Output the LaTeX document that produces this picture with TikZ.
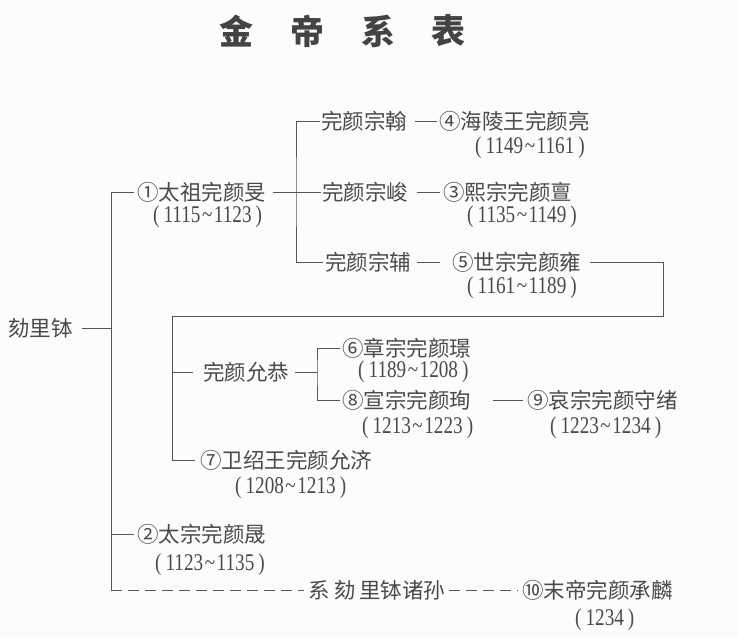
\documentclass[tikz,border=0pt]{standalone}
\usepackage{fontspec}
\newfontfamily\cjkfont{Noto Sans CJK SC}
\newfontfamily\datefont[FakeStretch=0.8]{Liberation Serif}
\definecolor{ink}{HTML}{4A4A4A}
\definecolor{lnc}{HTML}{555555}
\definecolor{bgc}{HTML}{FCFCFA}
\newcommand\mydates[2]{(\kern4pt #1\kern1.5pt\symbol{"7E}\kern1.5pt #2\kern4pt)}
\begin{document}
\begin{tikzpicture}[x=1pt,y=-1pt,
  cn/.style={inner sep=0pt, anchor=west, text=ink, font=\cjkfont\fontsize{21.5}{24}\selectfont},
  dt/.style={inner sep=0pt, anchor=west, text=ink, font=\datefont\fontsize{24}{26}\selectfont},
  ttl/.style={inner sep=0pt, text=ink!90!black, font=\cjkfont\bfseries\fontsize{34}{36}\selectfont},
  ln/.style={draw=lnc, line width=1pt},
  dl/.style={draw=lnc, line width=1pt, dash pattern=on 10.5pt off 6.5pt}]
\fill[bgc] (0,0) rectangle (738,638);
\useasboundingbox (0,0) rectangle (738,638);
% title
\node[ttl] (t1) at (236,31) {金};
\node[ttl] (t2) at (307,31) {帝};
\node[ttl] (t3) at (378,31) {系};
\node[ttl] (t4) at (448,31) {表};
% names
\node[cn] (root) at (8,328) {劾里钵};
\node[cn] (n1) at (137,192) {①太祖完颜旻};
\node[cn] (z1) at (321,121) {完颜宗翰};
\node[cn] (n4) at (439,121) {④海陵王完颜亮};
\node[cn] (z2) at (322,192) {完颜宗峻};
\node[cn] (n3) at (443,192) {③熙宗完颜亶};
\node[cn] (z3) at (325,262) {完颜宗辅};
\node[cn] (n5) at (452,262) {⑤世宗完颜雍};
\node[cn] (g) at (203,372) {完颜允恭};
\node[cn] (n6) at (342,348) {⑥章宗完颜璟};
\node[cn] (n8) at (342,400) {⑧宣宗完颜珣};
\node[cn] (n9) at (527,400) {⑨哀宗完颜守绪};
\node[cn] (n7) at (200,460) {⑦卫绍王完颜允济};
\node[cn] (n2) at (137,534) {②太宗完颜晟};
\node[cn] (xi) at (308,590) {系\hspace{5pt}劾\hspace{3pt}里钵诸孙};
\node[cn] (n10) at (522,590) {⑩末帝完颜承麟};
% dates
\node[dt] (d1) at (153,217) {\mydates{1115}{1123}};
\node[dt] (d4) at (475,148) {\mydates{1149}{1161}};
\node[dt] (d3) at (467,217) {\mydates{1135}{1149}};
\node[dt] (d5) at (467,288) {\mydates{1161}{1189}};
\node[dt] (d6) at (358,372) {\mydates{1189}{1208}};
\node[dt] (d8) at (362,428) {\mydates{1213}{1223}};
\node[dt] (d9) at (550,428) {\mydates{1223}{1234}};
\node[dt] (d7) at (235,488) {\mydates{1208}{1213}};
\node[dt] (d2) at (155,565) {\mydates{1123}{1135}};
\node[dt] (d10) at (575,620) {(\kern4pt 1234\kern4pt)};
% junction coordinates
\coordinate (Tbot) at (111,590);
\coordinate (B2) at (296,192);
\coordinate (C1) at (663,262);
\coordinate (C2) at (663,316);
\coordinate (C3) at (172,316);
\coordinate (B3) at (317,372);
% connectors
\draw[ln, shorten <=3pt] (n1.west) -| (Tbot);
\draw[ln, shorten <=9pt] (root.east) -- (root.east -| Tbot);
\draw[ln, shorten >=3pt] (n2.west -| Tbot) -- (n2.west);
\draw[ln, shorten <=7pt, shorten >=1pt] (n1.east) -- (z2.west);
\draw[ln, shorten <=1pt, shorten >=2pt] (z1.west) -| (B2) |- (z3.west);
\draw[ln, shorten <=8pt, shorten >=2pt] (z1.east) -- (n4.west);
\draw[ln, shorten <=9pt, shorten >=3pt] (z2.east) -- (n3.west);
\draw[ln, shorten <=6pt, shorten >=12pt] (z3.east) -- (n5.west);
\draw[ln, shorten <=9pt, shorten >=5pt] (n5.east) -- (C1) -- (C2) -- (C3) |- (n7.west);
\draw[ln, shorten >=10pt] (g.west -| C3) -- (g.west);
\draw[ln, shorten <=6pt] (g.east) -- (B3);
\draw[ln, shorten <=2pt, shorten >=2pt] (n6.west) -| (B3) |- (n8.west);
\draw[ln, shorten <=22pt, shorten >=4pt] (n8.east) -- (n9.west);
\draw[dl, shorten >=4pt] (Tbot) -- (xi.west);
\draw[dl, shorten <=4pt, shorten >=4pt] (xi.east) -- (n10.west);
\end{tikzpicture}
\end{document}
